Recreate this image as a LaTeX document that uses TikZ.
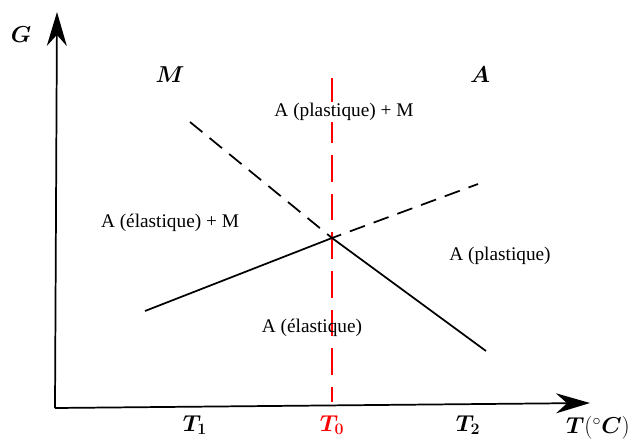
\documentclass[tikz,border=0pt]{standalone}
\usepackage{amsmath}
\usepackage{bm}
\usepackage{fontspec}
\setmainfont{Liberation Serif}
\usetikzlibrary{arrows.meta}
\begin{document}
\begin{tikzpicture}[x=0.0264cm, y=-0.0264cm, line width=1.3pt]
  \useasboundingbox (0,0) rectangle (632,441);
  \tikzset{
    axe/.style={-{Stealth[length=34pt*0.75, width=20pt*0.75]}},
    zone/.style={font=\fontsize{14.5}{16}\selectfont},
    grand/.style={font=\fontsize{19}{21}\selectfont},
    temp/.style={font=\fontsize{17}{19}\selectfont}
  }
  \coordinate (O) at (55,408); \coordinate (Gtip) at (57,12); \coordinate (Ttip) at (590,403);
  \coordinate (I) at (332,238);
  \coordinate (Mh) at (190,122); \coordinate (Ab) at (145,311);
  \coordinate (Ah) at (478,184); \coordinate (Mb) at (486,351);
  \coordinate (R1) at (332,78); \coordinate (R2) at (332,402);
  % axes
  \draw[axe] (O) -- (Gtip);
  \draw[axe] (O) -- (Ttip);
  \node[grand] (G) at (21,35) {$\bm{G}$};
  \node[temp, anchor=east, inner sep=1pt] (T) at (632,428) {$\bm{T}(^\circ\bm{C})$};
  % T0
  \draw[red, dash pattern=on 20pt off 9pt, line width=1.5pt] (R1) -- (R2);
  % droites
  \draw[dash pattern=on 12pt off 7pt] (Mh) -- (I) -- (Ah);
  \draw (Ab) -- (I) -- (Mb);
  % zones
  \node[grand] (lM) at (170,75) {$\bm{M}$};
  \node[grand] (lA) at (480,75) {$\bm{A}$};
  \node[zone, fill=white, inner sep=1pt] (z1) at (344,112) {A (plastique) + M};
  \node[zone] (z2) at (170,223) {A (élastique) + M};
  \node[zone] (z3) at (500,256) {A (plastique)};
  \node[zone] (z4) at (312,328) {A (élastique)};
  % temperatures
  \node[temp] (T1) at (195,425) {$\bm{T_1}$};
  \node[temp, red] (T0) at (332,425) {$\bm{T_0}$};
  \node[temp] (T2) at (468,425) {$\bm{T_2}$};
\end{tikzpicture}
\end{document}
